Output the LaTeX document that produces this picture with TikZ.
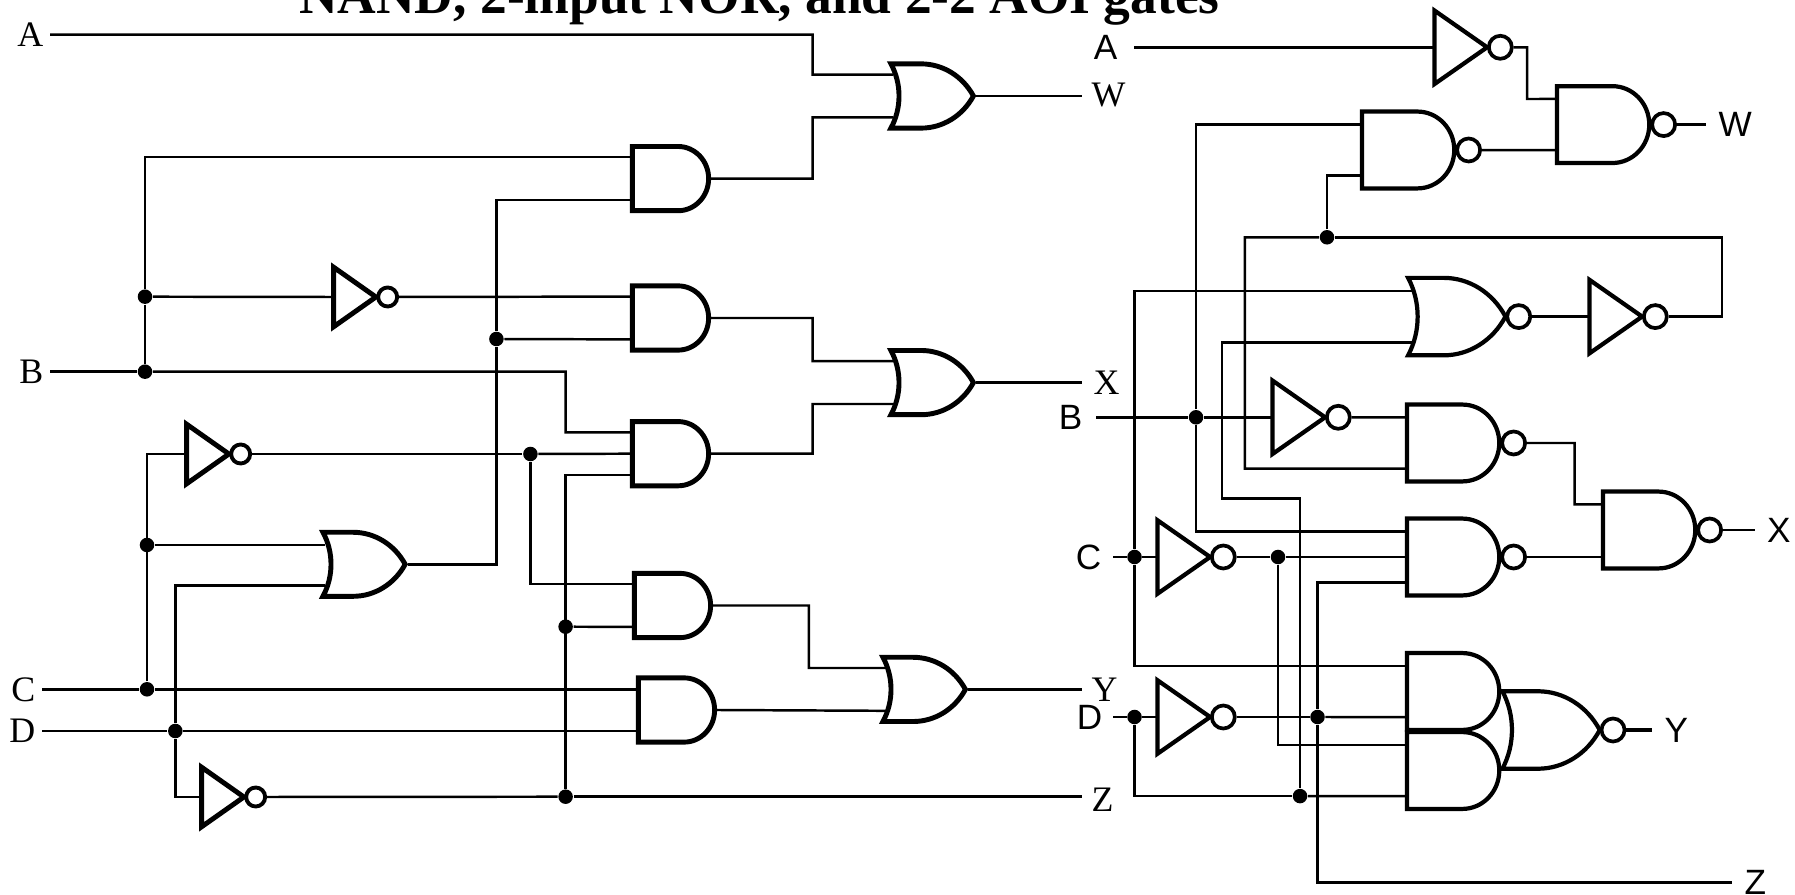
\documentclass[tikz,border=0pt]{standalone}
\usepackage{fontspec}
\setmainfont{Liberation Serif}
\setsansfont{Liberation Sans}
\usetikzlibrary{positioning, shapes.gates.logic.US}

\begin{document}
\begin{tikzpicture}[x=0.01cm, y=-0.01cm]
    % Define gate and wire styles
    \tikzstyle{gate} = [draw, line width=1.4pt, inner sep=0pt, anchor=west, transform shape, logic gate inverted radius=0pt, logic gate inputs=nnnnn]
    \tikzstyle{andsmall} = [gate, and gate US, logic gate input sep=0.107cm, xscale=0.95]
    \tikzstyle{orsmall} = [gate, or gate US, logic gate input sep=0.107cm, xscale=0.94]
    \tikzstyle{andbig} = [gate, and gate US, line width=1.2pt, logic gate input sep=0.128cm, xscale=0.96]
    \tikzstyle{orbig} = [gate, or gate US, line width=1.2pt, logic gate input sep=0.129cm, xscale=0.92]
    \tikzstyle{notsmall} = [gate, buffer gate US, minimum height=0.51cm, minimum width=0.51cm, xscale=0.66]
    \tikzstyle{notbig} = [gate, buffer gate US, line width=1.2pt, minimum height=0.63cm, minimum width=0.63cm, xscale=0.675]
    \tikzstyle{bubblesmall} = [circle, draw, line width=1.1pt, inner sep=0pt, minimum size=0.19cm]
    \tikzstyle{bubblebig} = [circle, draw, line width=1.05pt, inner sep=0pt, minimum size=0.23cm]
    \tikzstyle{wire} = [line width=0.7pt]
    \tikzstyle{dot} = [circle, fill, inner sep=0pt, minimum size=0.145cm]
    \tikzstyle{serif} = [font=\fontsize{10.2}{12}\selectfont, inner sep=0.06cm]
    \tikzstyle{serifout} = [serif, anchor=west, inner sep=0.09cm]
    \tikzstyle{sans} = [font=\fontsize{10}{12}\selectfont\sffamily, inner sep=0.12cm]

    \useasboundingbox (0,0) rectangle (1795,895);

    % Heading
    \node[font=\fontsize{15.2}{18}\selectfont\bfseries, anchor=base, inner sep=0pt] (heading) at (759.5,13.5) {NAND, 2-input NOR, and 2-2 AOI gates};

    % Left circuit gates
    \node[orsmall] (orW) at (896.7,96) {};
    \node[orsmall] (orX) at (896.7,382.6) {};
    \node[orsmall] (orY) at (888.7,689.4) {};
    \node[orsmall, logic gate input sep=0.095cm, minimum height=0.64cm] (orCD) at (328.7,564.3) {};
    \node[andsmall] (andA) at (630,178.6) {};
    \node[andsmall] (andB) at (630,318) {};
    \node[andsmall] (andC) at (630,453.7) {};
    \node[andsmall] (andD) at (632,605.5) {};
    \node[andsmall] (andE) at (636,710) {};
    \node[notsmall] (notB) at (332,297) {};
    \node[notsmall] (notC) at (185,454) {};
    \node[notsmall] (notD) at (200,797) {};
    \node[bubblesmall, right=-0.035cm of notB.output] (bubB) {};
    \node[bubblesmall, right=-0.035cm of notC.output] (bubC) {};
    \node[bubblesmall, right=-0.035cm of notD.output] (bubD) {};

    % Left circuit labels
    \node[serif, anchor=east] (inA) at (50,34.7) {A};
    \node[serif, anchor=east] (inB) at (50,371.7) {B};
    \node[serif, anchor=east] (inC) at (42,689.3) {C};
    \node[serif, anchor=east] (inD) at (42,731) {D};
    \node[serifout] (outW) at (1082,95) {W};
    \node[serifout, inner xsep=0.11cm] (outX) at (1082,383) {X};
    \node[serifout] (outY) at (1082,690) {Y};
    \node[serifout] (outZ) at (1082,800) {Z};

    % Left circuit junctions
    \node[dot] (jBtop) at (145,296.7) {};
    \node[dot] (jB) at (145,371.7) {};
    \node[dot] (jCtop) at (147,545) {};
    \node[dot] (jC) at (147,689.3) {};
    \node[dot] (jD) at (175.3,731) {};
    \node[dot] (jCD) at (496.4,339) {};
    \node[dot] (jnotC) at (530.4,454) {};
    \node[dot] (jnotDtop) at (565.6,626.7) {};
    \node[dot] (jnotD) at (565.6,796.7) {};

    % Left circuit wires
    \draw[wire] (inA.east) -| (812.6,74.6) -- (orW.input 1);
    \draw[wire] (andA.output) -| (812.6,117.4) -- (orW.input 5);
    \draw[wire] (orW.output) -- (orW.output -| outW.west);
    \draw[wire] (jBtop) |- (andA.input 1);
    \draw[wire] (jBtop) -- (jB);
    \draw[wire] (jBtop) -- (notB.west);
    \draw[wire] (bubB) -- (andB.input 1);
    \draw[wire] (inB.east) -- (jB);
    \draw[wire] (jB) -| (565.6,432.3) -- (andC.input 1);
    \draw[wire] (orCD.output) -| (jCD);
    \draw[wire] (jCD) |- (andA.input 5);
    \draw[wire] (jCD) -- (andB.input 5);
    \draw[wire] (andB.output) -| (812.6,361.2) -- (orX.input 1);
    \draw[wire] (andC.output) -| (812.6,404) -- (orX.input 5);
    \draw[wire] (orX.output) -- (orX.output -| outX.west);
    \draw[wire] (jC) |- (notC.west);
    \draw[wire] (bubC) -- (jnotC);
    \draw[wire] (jnotC) -- (andC.input 3);
    \draw[wire] (jnotC) |- (andD.input 1);
    \draw[wire] (jCtop) -- (jCtop -| orCD.input 1);
    \draw[wire] (jD) |- (orCD.input 5);
    \draw[wire] (jD) |- (notD.west);
    \draw[wire] (inC.east) -- (jC);
    \draw[wire] (jC) -- (jC -| andE.input 1);
    \draw[wire] (inD.east) -- (jD);
    \draw[wire] (jD) -- (jD -| andE.input 5);
    \draw[wire] (bubD) -- (jnotD);
    \draw[wire] (jnotD) -- (jnotD -| outZ.west);
    \draw[wire] (jnotD) |- (andC.input 5);
    \draw[wire] (jnotDtop) -- (andD.input 5);
    \draw[wire] (andD.output) -| (808.8,668) -- (orY.input 1);
    \draw[wire] (andE.output) -- (orY.input 5);
    \draw[wire] (orY.output) -- (orY.output -| outY.west);

    % Right circuit gates
    \node[notbig] (notA2) at (1433,47.3) {};
    \node[notbig] (notB2) at (1271,417.3) {};
    \node[notbig] (notC2) at (1156,557) {};
    \node[notbig] (notD2) at (1156,717) {};
    \node[notbig] (notX) at (1588,316.6) {};
    \node[andbig] (nandA) at (1360,150) {};
    \node[andbig] (nandW) at (1555,124.6) {};
    \node[andbig] (nandB) at (1405,443) {};
    \node[andbig] (nandC) at (1405,557) {};
    \node[andbig] (nandX) at (1601,530) {};
    \node[orbig] (norA) at (1415.7,316.6) {};
    \node[andbig] (andF) at (1405,691.5) {};
    \node[andbig] (andG) at (1405,770.5) {};
    \node[orbig] (norY) at (1510,730) {};
    \node[bubblebig, right=-0.035cm of notA2.output] (bubA2) {};
    \node[bubblebig, right=-0.035cm of notB2.output] (bubB2) {};
    \node[bubblebig, right=-0.035cm of notC2.output] (bubC2) {};
    \node[bubblebig, right=-0.035cm of notD2.output] (bubD2) {};
    \node[bubblebig, right=-0.035cm of notX.output] (bubX) {};
    \node[bubblebig, right=-0.01cm of nandA.output] (bubnandA) {};
    \node[bubblebig, right=-0.01cm of nandW.output] (bubnandW) {};
    \node[bubblebig, right=-0.01cm of nandB.output] (bubnandB) {};
    \node[bubblebig, right=-0.01cm of nandC.output] (bubnandC) {};
    \node[bubblebig, right=-0.01cm of nandX.output] (bubnandX) {};
    \node[bubblebig, right=-0.023cm of norA.output] (bubnorA) {};
    \node[bubblebig, right=-0.023cm of norY.output] (bubnorY) {};

    % Right circuit labels
    \node[sans, anchor=east, inner xsep=0.16cm] (inA2) at (1134,47.3) {A};
    \node[sans, anchor=east, inner xsep=0.13cm] (inB2) at (1096,417.3) {B};
    \node[sans, anchor=east, inner xsep=0.11cm] (inC2) at (1113,557) {C};
    \node[sans, anchor=east, inner xsep=0.10cm] (inD2) at (1113,717) {D};
    \node[sans, anchor=west] (outW2) at (1706,124.6) {W};
    \node[sans, anchor=west] (outX2) at (1754.5,530) {X};
    \node[sans, anchor=west] (outY2) at (1652,730) {Y};
    \node[sans, anchor=west] (outZ2) at (1732,882.7) {Z};

    % Right circuit junctions
    \node[dot] (jLoop) at (1327,237.3) {};
    \node[dot] (jB2) at (1196,417.3) {};
    \node[dot] (jC2) at (1134.5,557) {};
    \node[dot] (jD2) at (1134.5,717) {};
    \node[dot] (jnotC2) at (1278,557) {};
    \node[dot] (jnotD2) at (1317.5,717) {};
    \node[dot] (jZ) at (1300,796.1) {};

    % Right circuit wires
    \draw[wire] (inA2.east) -- (notA2.west);
    \draw[wire] (bubA2) -| (1527,99) -- (nandW.input 1);
    \draw[wire] (bubnandA) -- (nandW.input 5);
    \draw[wire] (bubnandW) -- (bubnandW -| outW2.west);
    \draw[wire] (jB2) |- (nandA.input 1);
    \draw[wire] (jB2) |- (nandC.input 1);
    \draw[wire] (jLoop) |- (nandA.input 5);
    \draw[wire] (bubX) -| (1722,237.3) -- (jLoop);
    \draw[wire] (jLoop) -| (1244.8,468.6) -- (nandB.input 5);
    \draw[wire] (bubnorA) -- (notX.west);
    \draw[wire] (jC2) |- (norA.input 1);
    \draw[wire] (jZ) |- (1221.8,498.3) |- (norA.input 5);
    \draw[wire] (inB2.east) -- (jB2);
    \draw[wire] (jB2) -- (notB2.west);
    \draw[wire] (bubB2) -- (nandB.input 1);
    \draw[wire] (bubnandB) -| (1574.6,504.4) -- (nandX.input 1);
    \draw[wire] (bubnandC) -- (bubnandC -| nandX.input 5);
    \draw[wire] (bubnandX) -- (bubnandX -| outX2.west);
    \draw[wire] (inC2.east) -- (jC2);
    \draw[wire] (jC2) -- (notC2.west);
    \draw[wire] (bubC2) -- (jnotC2);
    \draw[wire] (jnotC2) -- (nandC.input 3);
    \draw[wire] (jC2) |- (andF.input 1);
    \draw[wire] (jnotC2) |- (andG.input 1);
    \draw[wire] (inD2.east) -- (jD2);
    \draw[wire] (jD2) -- (notD2.west);
    \draw[wire] (bubD2) -- (jnotD2);
    \draw[wire] (jnotD2) -- (andF.input 5);
    \draw[wire] (jD2) |- (jZ);
    \draw[wire] (jZ) -- (andG.input 5);
    \draw[wire] (nandC.input 5) -| (jnotD2);
    \draw[wire] (jnotD2) |- (outZ2.west);
    \draw[line width=1.4pt] (bubnorY) -- (bubnorY -| outY2.west);
\end{tikzpicture}
\end{document}
